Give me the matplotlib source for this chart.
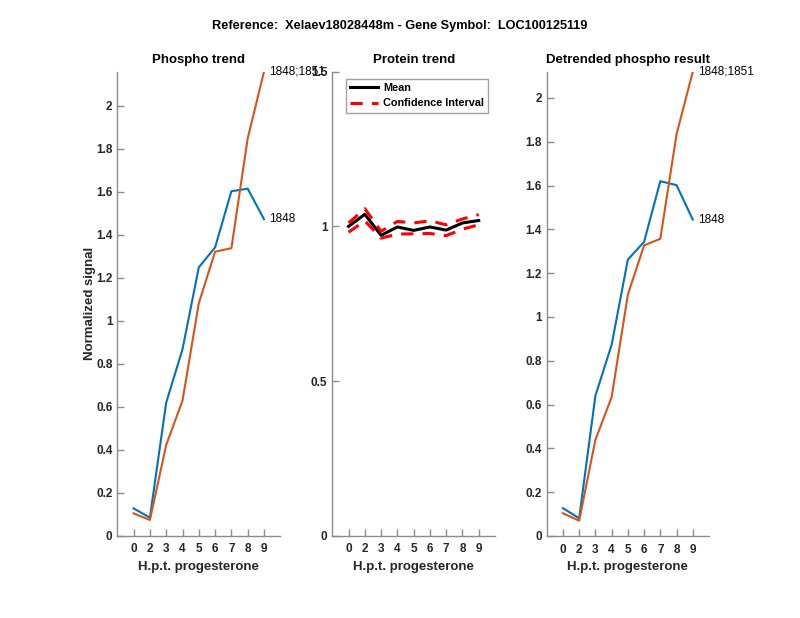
import matplotlib
matplotlib.use("Agg")
import matplotlib.pyplot as plt

plt.rcParams['font.family'] = ['Liberation Sans', 'DejaVu Sans']

tick_labels = ['0', '2', '3', '4', '5', '6', '7', '8', '9']
xpos = list(range(1, 10))

phospho_1848 = [0.127, 0.084, 0.619, 0.867, 1.248, 1.341, 1.602, 1.614, 1.472]
phospho_1848_1851 = [0.104, 0.073, 0.422, 0.628, 1.081, 1.321, 1.337, 1.848, 2.158]

protein_mean = [1.000, 1.039, 0.971, 0.998, 0.987, 0.998, 0.988, 1.011, 1.019]
protein_upper = [1.011, 1.057, 0.984, 1.016, 1.011, 1.018, 1.005, 1.024, 1.038]
protein_lower = [0.981, 1.018, 0.962, 0.975, 0.976, 0.977, 0.970, 0.991, 1.005]

detr_1848 = [0.127, 0.081, 0.640, 0.873, 1.262, 1.343, 1.620, 1.602, 1.445]
detr_1848_1851 = [0.104, 0.070, 0.439, 0.634, 1.102, 1.327, 1.357, 1.834, 2.120]

BLUE = '#0072BD'
ORANGE = '#D95319'
AX_COL = '#8c8c8c'
TXT_COL = '#262626'

TICK_FS = 8.5
LABEL_FS = 9.5
TITLE_FS = 9.5
SUP_FS = 9.2
ANN_FS = 8.5

fig = plt.figure(figsize=(8, 6.18), dpi=100)
fig.patch.set_facecolor('white')

W, H = 800.0, 618.0
def pos(x0, x1, y0, y1):
    return [x0 / W, 1 - y1 / H, (x1 - x0) / W, (y1 - y0) / H]

ax1 = fig.add_axes(pos(117.3, 280.3, 71.7, 535.7))
ax2 = fig.add_axes(pos(332.3, 495.0, 71.7, 535.7))
ax3 = fig.add_axes(pos(546.7, 709.0, 71.7, 536.0))

def style(ax):
    for s in ['top', 'right']:
        ax.spines[s].set_visible(False)
    for s in ['left', 'bottom']:
        ax.spines[s].set_color(AX_COL)
        ax.spines[s].set_linewidth(1.0)
    ax.tick_params(direction='in', length=5, width=1.0, color=AX_COL,
                   labelcolor=TXT_COL, labelsize=TICK_FS, pad=3.5)
    ax.tick_params(axis='x', pad=5.5)
    ax.set_xlim(0, 10)
    ax.set_xticks(xpos)
    ax.set_xticklabels(tick_labels, fontweight='bold', fontsize=TICK_FS)
    ax.set_xlabel('H.p.t. progesterone', fontsize=LABEL_FS, fontweight='bold',
                  color=TXT_COL, labelpad=4)

# Left panel
ax1.plot(xpos, phospho_1848, color=BLUE, lw=1.5)
ax1.plot(xpos, phospho_1848_1851, color=ORANGE, lw=1.5)
ax1.set_ylim(0, max(phospho_1848_1851))
ax1.set_yticks([0, 0.2, 0.4, 0.6, 0.8, 1, 1.2, 1.4, 1.6, 1.8, 2])
ax1.set_yticklabels(['0', '0.2', '0.4', '0.6', '0.8', '1', '1.2', '1.4', '1.6', '1.8', '2'],
                    fontweight='bold')
style(ax1)
ax1.set_title('Phospho trend', fontsize=TITLE_FS, fontweight='bold', color='black', pad=6)
ax1.set_ylabel('Normalized signal', fontsize=LABEL_FS, fontweight='bold', color=TXT_COL, labelpad=0)
ax1.text(xpos[-1] + 0.3, phospho_1848[-1], '1848', fontsize=ANN_FS, va='center', ha='left', color='black')
ax1.text(xpos[-1] + 0.3, phospho_1848_1851[-1], '1848;1851', fontsize=ANN_FS, va='center', ha='left', color='black')

# Middle panel
ax2.set_facecolor('white')
ax2.plot(xpos, protein_mean, color='black', lw=2.2, label='Mean')
ax2.plot(xpos, protein_upper, color='red', lw=2.2, ls=(0, (4, 3)), label='Confidence Interval')
ax2.plot(xpos, protein_lower, color='red', lw=2.2, ls=(0, (4, 3)))
ax2.set_ylim(0, 1.5)
ax2.set_yticks([0, 0.5, 1, 1.5])
ax2.set_yticklabels(['0', '0.5', '1', '1.5'], fontweight='bold')
style(ax2)
ax2.set_title('Protein trend', fontsize=TITLE_FS, fontweight='bold', color='black', pad=6)
leg = ax2.legend(loc='upper left', bbox_to_anchor=(0.082, 0.985),
                 prop={'weight': 'bold', 'size': 7.8}, frameon=True, fancybox=False,
                 borderpad=0.4, labelspacing=0.5, handlelength=2.6, handletextpad=0.45,
                 borderaxespad=0.0)
leg.get_frame().set_edgecolor(AX_COL)
leg.get_frame().set_linewidth(1.0)

# Right panel
ax3.plot(xpos, detr_1848, color=BLUE, lw=1.5)
ax3.plot(xpos, detr_1848_1851, color=ORANGE, lw=1.5)
ax3.set_ylim(0, max(detr_1848_1851))
ax3.set_yticks([0, 0.2, 0.4, 0.6, 0.8, 1, 1.2, 1.4, 1.6, 1.8, 2])
ax3.set_yticklabels(['0', '0.2', '0.4', '0.6', '0.8', '1', '1.2', '1.4', '1.6', '1.8', '2'],
                    fontweight='bold')
style(ax3)
ax3.set_title('Detrended phospho result', fontsize=TITLE_FS, fontweight='bold', color='black', pad=6)
ax3.text(xpos[-1] + 0.3, detr_1848[-1], '1848', fontsize=ANN_FS, va='center', ha='left', color='black')
ax3.text(xpos[-1] + 0.3, detr_1848_1851[-1], '1848;1851', fontsize=ANN_FS, va='center', ha='left', color='black')

fig.text(0.5, 1 - 26 / H, 'Reference:  Xelaev18028448m - Gene Symbol:  LOC100125119',
         ha='center', va='center', fontsize=SUP_FS, fontweight='bold', color='black')

fig.savefig('out.png', dpi=100, facecolor='white')
